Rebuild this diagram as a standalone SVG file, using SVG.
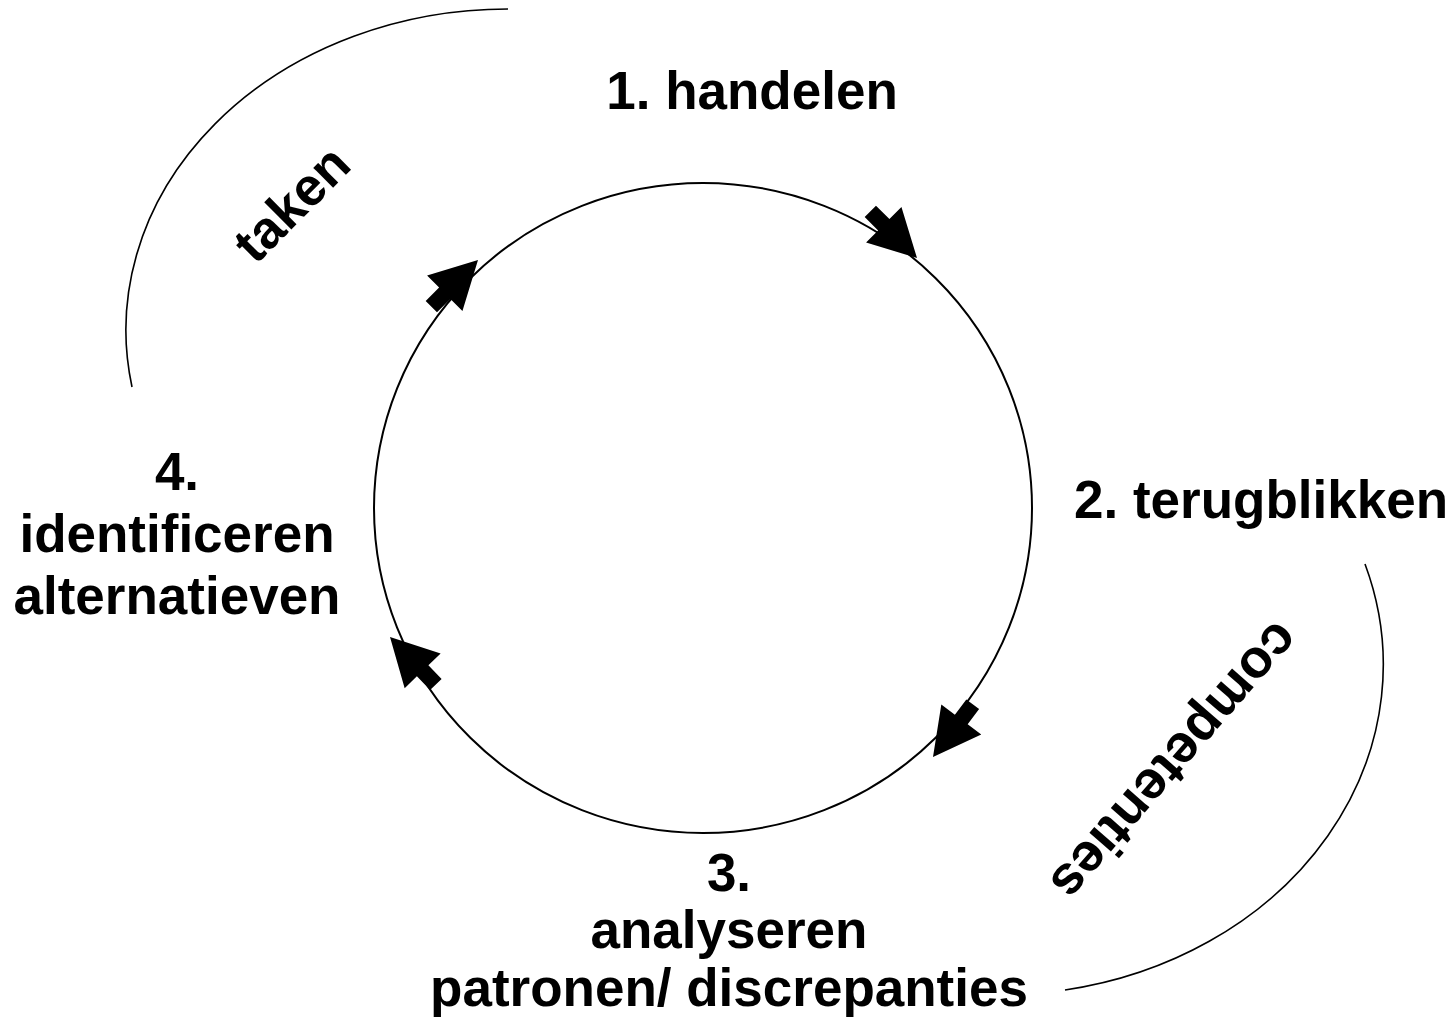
<svg xmlns="http://www.w3.org/2000/svg" width="1456" height="1019" viewBox="0 0 1456 1019">
<style>
.lbl{font-family:"Liberation Sans",Arial,sans-serif;font-weight:bold;font-size:53px;fill:#000;text-anchor:middle}
.ln{fill:none;stroke:#000;stroke-width:2}
.arc{fill:none;stroke:#000;stroke-width:1.6}
</style>
<defs>
<polygon id="blockArrow" points="0,0 -47,-25 -47,-8 -66,-8 -66,8 -47,8 -47,25" fill="#000"/>
</defs>
<rect width="1456" height="1019" fill="#fff"/>
<g id="connectors">
<ellipse class="ln" cx="703" cy="508" rx="329" ry="325"/>
<path class="arc" d="M508,9 A382,321 0 0 0 132,387"/>
<path class="arc" d="M1365,564 A383,330 0 0 1 1065,990"/>
<use href="#blockArrow" transform="translate(917,258) rotate(45)"/>
<use href="#blockArrow" transform="translate(933,757) rotate(127)"/>
<use href="#blockArrow" transform="translate(390,637) rotate(-134)"/>
<use href="#blockArrow" transform="translate(478,260) rotate(-45)"/>
</g>
<g id="node-handelen"><text class="lbl" x="752" y="109">1. handelen</text></g>
<g id="node-terugblikken"><text class="lbl" x="1261" y="518">2. terugblikken</text></g>
<g id="node-analyseren">
<text class="lbl" x="729" y="891">3.</text>
<text class="lbl" x="729" y="948">analyseren</text>
<text class="lbl" x="729" y="1006">patronen/ discrepanties</text>
</g>
<g id="node-identificeren">
<text class="lbl" x="177" y="490">4.</text>
<text class="lbl" x="177" y="552">identificeren</text>
<text class="lbl" x="177" y="614">alternatieven</text>
</g>
<g id="label-taken" transform="translate(291,203) rotate(-45)"><text class="lbl" x="0" y="19">taken</text></g>
<g id="label-competenties" transform="translate(1176,762) rotate(131)"><text class="lbl" x="0" y="19" style="font-size:54px">competenties</text></g>
</svg>
